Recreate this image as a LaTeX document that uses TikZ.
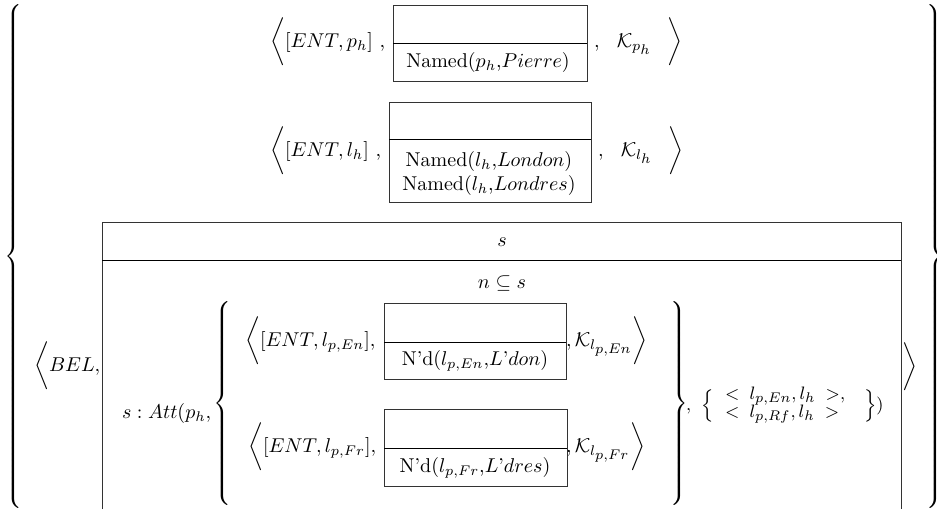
\documentclass[tikz,border=0pt]{standalone}
\usepackage{amsmath,amssymb}
% second-level indices set as large as first-level ones
\DeclareMathSizes{10}{10}{7}{7}
\DeclareMathSizes{9}{9}{7}{7}
% extensible braces of a given half-height, centred on the math axis
\newcommand{\lbraceof}[1]{$\delimiterfactor=1000 \delimitershortfall=0pt
  \left\{\vrule height \dimexpr#1+2.5pt\relax depth \dimexpr#1-2.5pt\relax width 0pt\right.$}
\newcommand{\rbraceof}[1]{$\delimiterfactor=1000 \delimitershortfall=0pt
  \left.\vrule height \dimexpr#1+2.5pt\relax depth \dimexpr#1-2.5pt\relax width 0pt\right\}$}
\tikzset{
  frame/.style={draw=black!80, line width=0.5pt},
  divider/.style={draw=black, line width=0.5pt},
  txt/.style={inner sep=0pt, outer sep=0pt},
  lft/.style={txt, anchor=west},
  pair/.style={lft, font=\small},
}
\begin{document}
\begin{tikzpicture}[x=0.5pt,y=-0.5pt]
\useasboundingbox (0,0) rectangle (937,509);

% outer set braces
\node[lft] (outerL) at (4,256) {\lbraceof{124pt}};
\node[txt, anchor=east] (outerR) at (944,256) {\rbraceof{124pt}};

% entity p_h
\node[lft] (r1open) at (270,42) {$\biggl\langle[ENT,p_h]$\ ,};
\draw[frame] (393,5) rectangle (587,81);
\draw[divider] (393,43) -- (587,43);
\node[txt] (r1cond) at (488,62) {Named($p_h$,$Pierre$)};
\node[lft] (r1close) at (594,42) {$,\hspace{7pt}\mathcal{K}_{p_h}\hspace{8pt}\biggr\rangle$};

% entity l_h
\node[lft] (r2open) at (270,151) {$\biggl\langle[ENT,l_h]$\ ,};
\draw[frame] (389,102) rectangle (591,202);
\draw[divider] (389,139) -- (591,139);
\node[txt, align=center] (r2cond) at (489,173)
  {Named($l_h$,$London$)\\Named($l_h$,$Londres$)};
\node[lft] (r2close) at (598,151) {$,\hspace{7pt}\mathcal{K}_{l_h}\hspace{8pt}\biggr\rangle$};

% belief
\node[lft] (bel) at (34,366) {$\biggl\langle BEL,$};
\draw[frame] (102,509) -- (102,222) -- (901,222) -- (901,509);
\draw[divider] (102,260) -- (901,260);
\node[txt] (sname) at (502,242) {$s$};
\node[txt] (ncond) at (502,283) {$n\subseteq s$};
\node[lft] (att) at (122,413) {$s:Att(p_h,$};
\node[lft] (innerL) at (213,403) {\lbraceof{50pt}};

% entity l_{p,En}
\node[lft] (e1open) at (245,341) {$\biggl\langle[ENT,l_{p,En}],$};
\draw[frame] (384,303) rectangle (566,379);
\draw[divider] (384,342) -- (566,342);
\node[txt] (e1cond) at (475,361) {N'd($l_{p,En}$,$L$'$don$)};
\node[lft] (e1close) at (566,341) {$,\mathcal{K}_{l_{p,En}}\biggr\rangle$};

% entity l_{p,Fr}
\node[lft] (e2open) at (248,447) {$\biggl\langle[ENT,l_{p,Fr}],$};
\draw[frame] (384,409) rectangle (567,486);
\draw[divider] (384,448) -- (567,448);
\node[txt] (e2cond) at (475,468) {N'd($l_{p,Fr}$,$L$'$dres$)};
\node[lft] (e2close) at (566,447) {$,\mathcal{K}_{l_{p,Fr}}\biggr\rangle$};

\node[lft] (innerR) at (668,403) {\rbraceof{50pt}};

% anchoring pairs
\node[pair] (pairopen) at (686,406) {$,\hspace{3.5pt}\Bigl\{$};
\node[pair] (pairA) at (725,396) {$<\hspace{2.5pt}l_{p,En},l_h\hspace{2.5pt}>,$};
\node[pair] (pairB) at (725,414) {$<\hspace{2.5pt}l_{p,Rf},l_h\hspace{2.5pt}>$};
\node[pair] (pairclose) at (864,406) {$\Bigr\})$};

\node[lft] (belclose) at (902,367) {$\biggr\rangle$};
\end{tikzpicture}
\end{document}
